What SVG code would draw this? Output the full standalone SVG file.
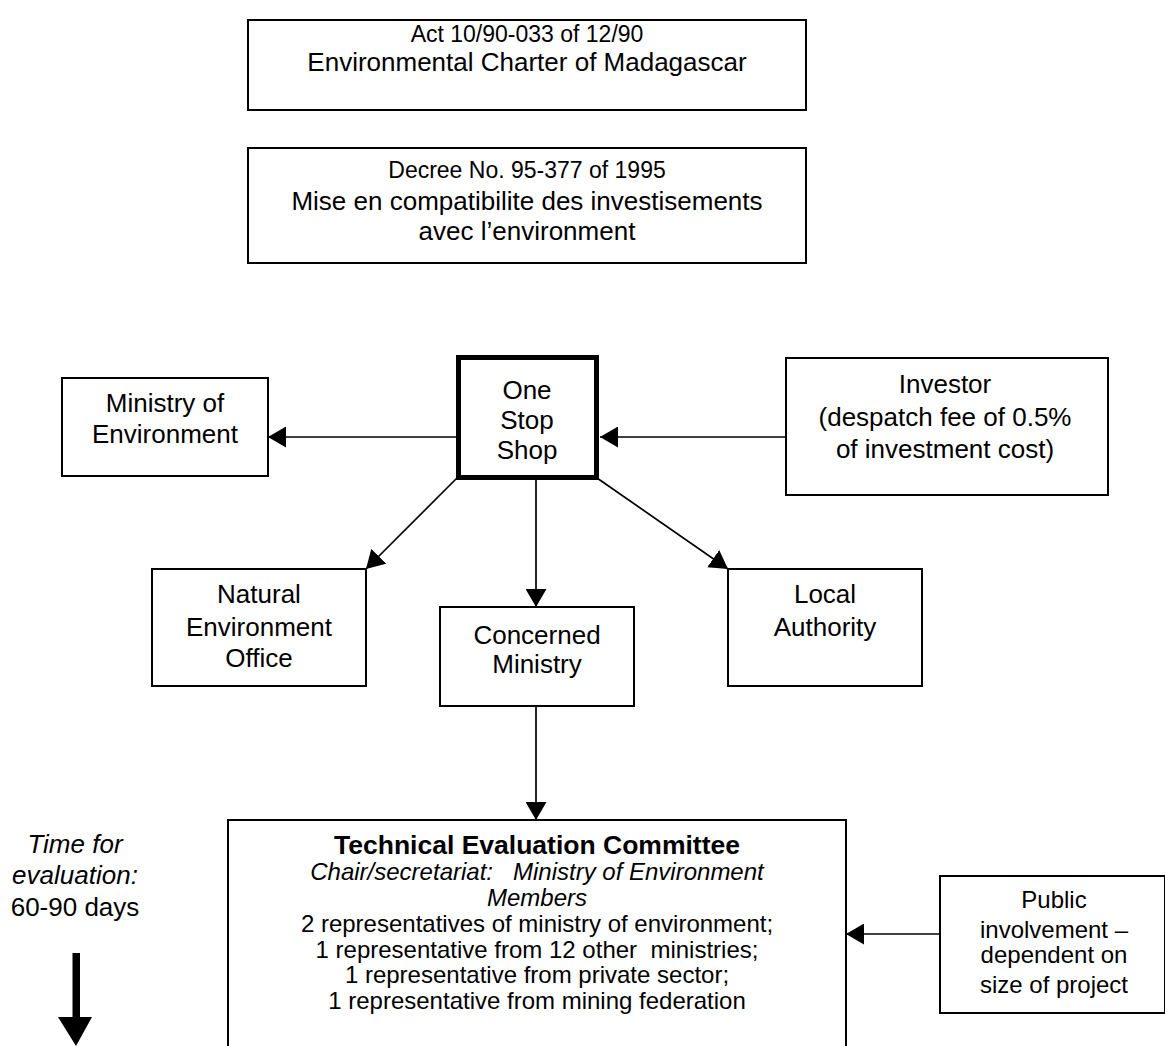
<svg xmlns="http://www.w3.org/2000/svg" width="1165" height="1046" viewBox="0 0 1165 1046">
<style>
.box{fill:#fff;stroke:#000;stroke-width:2}
.thick{fill:#fff;stroke:#000;stroke-width:5}
.t{font-family:"Liberation Sans",Arial,sans-serif;font-size:26px;fill:#000;text-anchor:middle}
.s{font-size:24px}
.p{font-size:24px}
.b{font-weight:bold;font-size:26.5px}
.i{font-style:italic}
.c{stroke:#000;stroke-width:1.7;fill:none;marker-end:url(#ah)}
</style>
<defs>
<marker id="ah" markerUnits="userSpaceOnUse" markerWidth="18" markerHeight="21" refX="18" refY="10.5" orient="auto">
<path d="M0,0 L18,10.5 L0,21 Z" fill="#000"/>
</marker>
</defs>
<rect width="1165" height="1046" fill="#fff"/>
<g id="connectors">
<line class="c" x1="456" y1="437" x2="268" y2="437"/>
<line class="c" x1="786" y1="437" x2="600" y2="437"/>
<line class="c" x1="457" y1="478" x2="366" y2="569"/>
<line class="c" x1="536" y1="480" x2="536" y2="607"/>
<line class="c" x1="597" y1="478" x2="728" y2="569"/>
<line class="c" x1="536" y1="706" x2="536" y2="820"/>
<line class="c" x1="940" y1="934" x2="846" y2="934"/>
</g>
<g id="act">
<rect class="box" x="248" y="20" width="558" height="90"/>
<text class="t" x="527" y="42" style="font-size:23px">Act 10/90-033 of 12/90</text>
<text class="t" x="527" y="71">Environmental Charter of Madagascar</text>
</g>
<g id="decree">
<rect class="box" x="248" y="148" width="558" height="115"/>
<text class="t" x="527" y="178" style="font-size:23px">Decree No. 95-377 of 1995</text>
<text class="t" x="527" y="210">Mise en compatibilite des investisements</text>
<text class="t" x="527" y="240">avec l’environment</text>
</g>
<g id="oss">
<rect class="thick" x="458.5" y="357.5" width="138" height="120"/>
<text class="t" x="527" y="399">One</text>
<text class="t" x="527" y="429">Stop</text>
<text class="t" x="527" y="459">Shop</text>
</g>
<g id="ministry-env">
<rect class="box" x="62" y="378" width="206" height="98"/>
<text class="t" x="165" y="412">Ministry of</text>
<text class="t" x="165" y="443">Environment</text>
</g>
<g id="investor">
<rect class="box" x="786" y="358" width="322" height="137"/>
<text class="t" x="945" y="393">Investor</text>
<text class="t" x="945" y="426">(despatch fee of 0.5%</text>
<text class="t" x="945" y="458">of investment cost)</text>
</g>
<g id="neo">
<rect class="box" x="152" y="569" width="214" height="117"/>
<text class="t" x="259" y="603">Natural</text>
<text class="t" x="259" y="636">Environment</text>
<text class="t" x="259" y="667">Office</text>
</g>
<g id="concerned">
<rect class="box" x="440" y="607" width="194" height="99"/>
<text class="t" x="537" y="644">Concerned</text>
<text class="t" x="537" y="673">Ministry</text>
</g>
<g id="local">
<rect class="box" x="728" y="569" width="194" height="117"/>
<text class="t" x="825" y="603">Local</text>
<text class="t" x="825" y="636">Authority</text>
</g>
<g id="tec">
<rect class="box" x="228" y="820" width="618" height="260"/>
<text class="t b" x="537" y="854">Technical Evaluation Committee</text>
<text class="t s i" x="537" y="880" style="white-space:pre">Chair/secretariat:   Ministry of Environment</text>
<text class="t s i" x="537" y="906">Members</text>
<text class="t s" x="537" y="932">2 representatives of ministry of environment;</text>
<text class="t s" x="537" y="958" style="white-space:pre">1 representative from 12 other  ministries;</text>
<text class="t s" x="537" y="983">1 representative from private sector;</text>
<text class="t s" x="537" y="1009">1 representative from mining federation</text>
</g>
<g id="public">
<rect class="box" x="940" y="876" width="225" height="137"/>
<text class="t p" x="1054" y="908">Public</text>
<text class="t p" x="1054" y="938">involvement –</text>
<text class="t p" x="1054" y="963">dependent on</text>
<text class="t p" x="1054" y="993">size of project</text>
</g>
<g id="time">
<text class="t i" x="75" y="853">Time for</text>
<text class="t i" x="75" y="884">evaluation:</text>
<text class="t" x="75" y="916">60-90 days</text>
<polygon points="72.5,953 80,953 80,1017 92,1017 76,1046 58,1017 72.5,1017" fill="#000"/>
</g>
</svg>
